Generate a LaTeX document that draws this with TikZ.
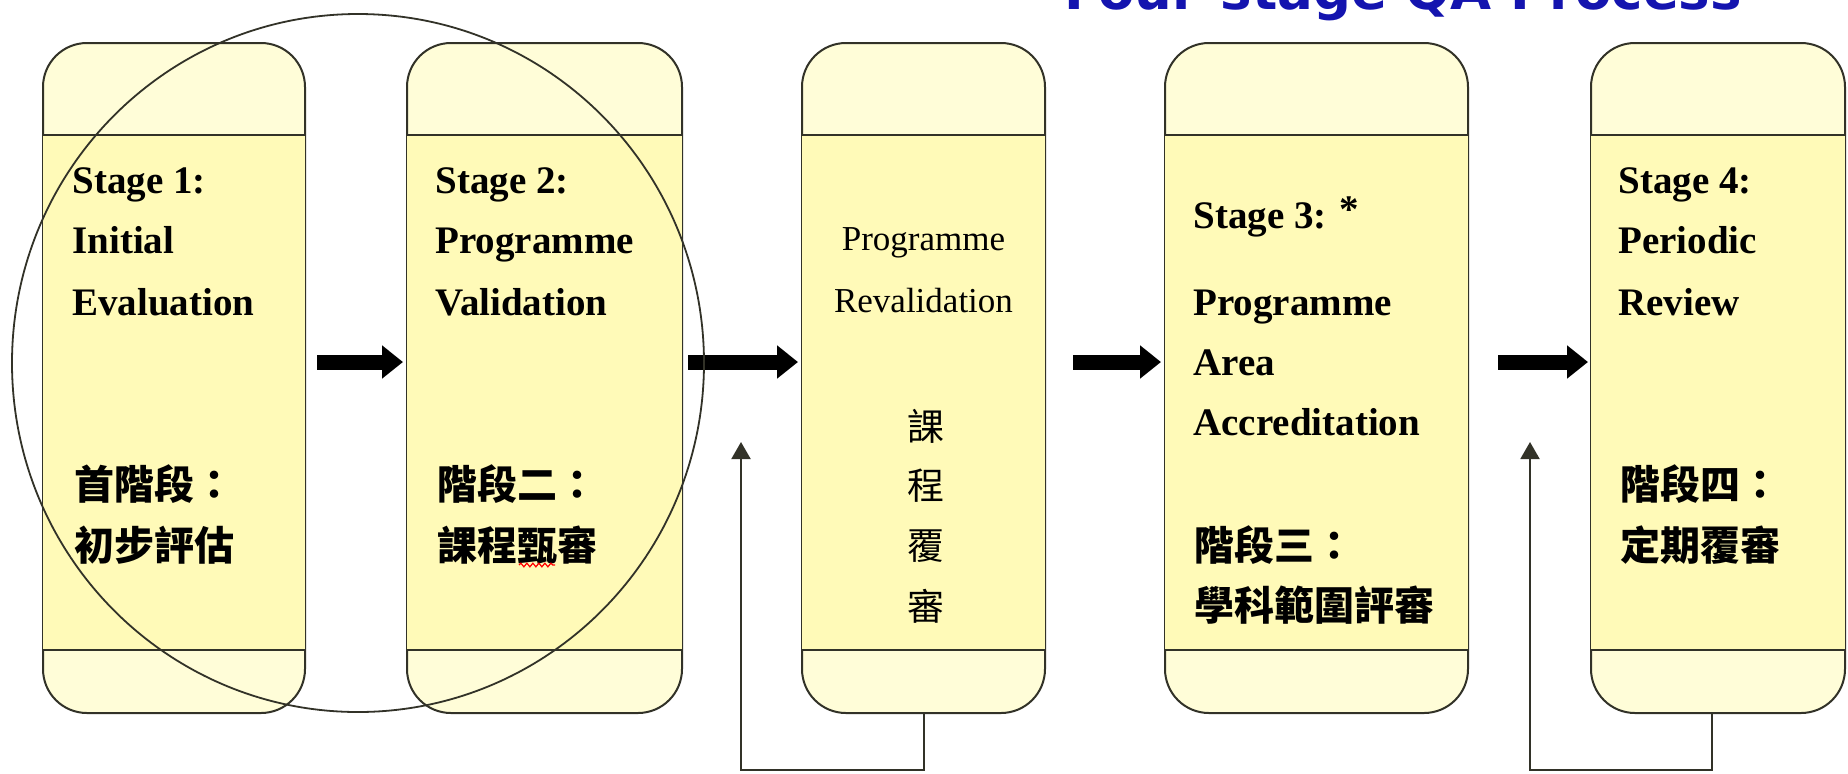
\documentclass[tikz,border=0pt]{standalone}
\usepackage{fontspec}
\setmainfont{Liberation Serif}
\newfontfamily\cjk{Noto Sans CJK TC}
\newfontfamily\titlefont{DejaVu Sans}
\usetikzlibrary{arrows.meta,calc,decorations.pathmorphing}
\definecolor{hdr}{RGB}{255,253,216}
\definecolor{mid}{RGB}{255,250,184}
\definecolor{edge}{RGB}{50,50,40}
\definecolor{ttl}{RGB}{20,20,175}
\begin{document}
\begin{tikzpicture}[x=0.5pt,y=-0.5pt,
  stagebox/.style={draw=edge, line width=1pt, fill=hdr, rounded corners=22pt, minimum height=335pt, inner sep=0pt},
  divider/.style={draw=edge, line width=0.8pt},
  en/.style={anchor=base west, inner sep=0pt, font=\bfseries\fontsize{19.5}{20}\selectfont},
  zh/.style={anchor=base west, inner sep=0pt, font=\cjk\bfseries\fontsize{20}{20}\selectfont},
  enr/.style={anchor=base, inner sep=0pt, font=\fontsize{17.5}{18}\selectfont},
  zhr/.style={anchor=base, inner sep=0pt, font=\cjk\fontsize{18.5}{19}\selectfont},
  bigarrow/.style={draw=black, line width=7.5pt, -{Triangle[length=10.5pt,width=16pt]}},
  fb/.style={draw=edge, line width=1pt, -{Triangle[length=8.5pt,width=9.5pt]}},
  ring/.style={draw=edge, line width=0.9pt}
]
\useasboundingbox (0,0) rectangle (1848,773);
\fill[white] (0,0) rectangle (1848,773);

% title (cut off at top)
\begin{scope}
\clip (0,0) rectangle (1848,773);
\node[anchor=base west, inner sep=0pt, text=ttl, font=\titlefont\bfseries\fontsize{26.5}{28}\selectfont] (title) at (1064,9) {Four-stage QA Process};
\end{scope}

% boxes
\node[stagebox, minimum width=131pt]   (b1) at (174,378) {};
\node[stagebox, minimum width=137.5pt] (b2) at (544.5,378) {};
\node[stagebox, minimum width=121.5pt] (b3) at (923.5,378) {};
\node[stagebox, minimum width=151.5pt] (b4) at (1316.5,378) {};
\node[stagebox, minimum width=127pt]   (b5) at (1718,378) {};

\coordinate (hl) at (0,135);
\coordinate (fl) at (0,650);
\foreach \b in {b1,b2,b3,b4,b5}{
  \fill[mid] ([xshift=0.5pt]\b.west |- hl) rectangle ([xshift=-0.5pt]\b.east |- fl);
  \draw[divider] (\b.west |- hl) -- (\b.east |- hl);
  \draw[divider] (\b.west |- fl) -- (\b.east |- fl);
}

% box 1
\node[en] (t1a) at (72,193) {Stage 1:};
\node[en] (t1b) at (72,253) {Initial};
\node[en] (t1c) at (72,315) {Evaluation};
\node[zh] (t1d) at (74,499) {首階段：};
\node[zh] (t1e) at (74,560) {初步評估};

% box 2
\node[en] (t2a) at (435,193) {Stage 2:};
\node[en] (t2b) at (435,253) {Programme};
\node[en] (t2c) at (435,315) {Validation};
\node[zh] (t2d) at (437,499) {階段二：};
\node[zh] (t2e) at (437,560) {課程甄審};
\draw[red, line width=0.6pt, decorate, decoration={snake, amplitude=0.9pt, segment length=3pt}] (519,565) -- (555,565);

% box 3
\node[enr] (t3a) at (923.5,250) {Programme};
\node[enr] (t3b) at (923.5,312) {Revalidation};
\node[zhr] (t3c) at (926,440) {課};
\node[zhr] (t3d) at (926,499) {程};
\node[zhr] (t3e) at (926,559) {覆};
\node[zhr] (t3f) at (926,620) {審};

% box 4
\node[en] (t4a) at (1193,228) {Stage 3: \raisebox{3pt}{*}};
\node[en] (t4b) at (1193,315) {Programme};
\node[en] (t4c) at (1193,375) {Area};
\node[en] (t4d) at (1193,435) {Accreditation};
\node[zh] (t4e) at (1194,560) {階段三：};
\node[zh] (t4f) at (1194,620) {學科範圍評審};

% box 5
\node[en] (t5a) at (1618,193) {Stage 4:};
\node[en] (t5b) at (1618,253) {Periodic};
\node[en] (t5c) at (1618,315) {Review};
\node[zh] (t5d) at (1620,499) {階段四：};
\node[zh] (t5e) at (1620,560) {定期覆審};

% thick arrows
\draw[bigarrow, shorten <=5.5pt, shorten >=1.5pt] ([yshift=8pt]b1.east) -- ([yshift=8pt]b2.west);
\draw[bigarrow, shorten <=2.5pt, shorten >=1.5pt] ([yshift=8pt]b2.east) -- ([yshift=8pt]b3.west);
\draw[bigarrow, shorten <=13.5pt, shorten >=1.5pt] ([yshift=8pt]b3.east) -- ([yshift=8pt]b4.west);
\draw[bigarrow, shorten <=14.5pt, shorten >=1pt] ([yshift=8pt]b4.east) -- ([yshift=8pt]b5.west);

% feedback loops
\coordinate (r1b) at (741,770);
\coordinate (r1t) at (741,442);
\draw[fb] (b3.south) |- (r1b) -- (r1t);
\coordinate (r2b) at (1530,770);
\coordinate (r2t) at (1530,442);
\draw[fb] ([xshift=-3pt]b5.south) |- (r2b) -- (r2t);

% ring around stages 1 and 2
\draw[ring] (358,363) ellipse [x radius=173pt, y radius=174.5pt];
\end{tikzpicture}
\end{document}
